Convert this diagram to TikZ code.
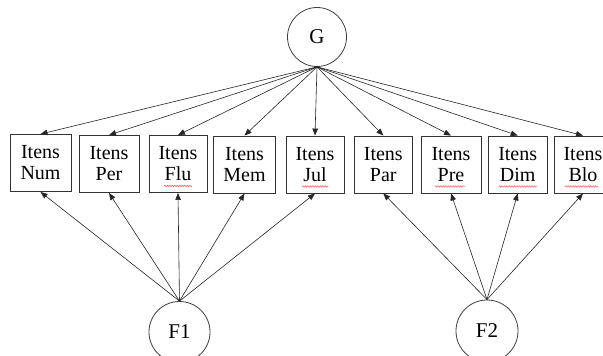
\documentclass[tikz,border=0pt]{standalone}
\usepackage{fontspec}
\setmainfont{Liberation Serif}
\usetikzlibrary{arrows.meta,decorations.pathmorphing}

\begin{document}
\begin{tikzpicture}[x=1pt,y=-1pt,
  item/.style={draw=black!80,line width=0.9pt,minimum height=57pt,inner sep=0pt,
    align=center,font=\fontsize{20}{21}\selectfont},
  latent/.style={circle,draw=black!75,line width=0.8pt,inner sep=0pt,
    font=\fontsize{21}{21}\selectfont},
  link/.style={draw=black!85,line width=0.6pt,-{Triangle[length=7pt,width=5.5pt]}},
  squiggle/.style={draw=red!65,line width=0.5pt,decorate,
    decoration={snake,amplitude=0.8pt,segment length=2.5pt}}]

\fill[white] (0,0) rectangle (603,356);
\clip (0,0) rectangle (603,356);
\useasboundingbox (0,0) rectangle (603,356);

% general factor and the two specific factors
\node[latent,minimum size=59pt] (G) at (317,37) {G};
\node[latent,minimum size=61pt] (F1) at (179.5,332) {F1};
\node[latent,minimum size=62pt] (F2) at (487,331) {F2};

% item groups
\node[item,minimum width=61pt] (num) at (40.5,163) {Itens\\Num};
\node[item,minimum width=60pt] (per) at (109,164) {Itens\\Per};
\node[item,minimum width=58pt] (flu) at (178,164) {Itens\\Flu};
\node[item,minimum width=62pt] (mem) at (244.5,164.5) {Itens\\Mem};
\node[item,minimum width=58pt] (jul) at (315,164.5) {Itens\\Jul};
\node[item,minimum width=58pt] (par) at (383.3,164.5) {Itens\\Par};
\node[item,minimum width=60pt] (pre) at (451,164.5) {Itens\\Pre};
\node[item,minimum width=59pt] (dim) at (517.7,164.5) {Itens\\Dim};
\node[item,minimum width=58pt] (blo) at (583,164.5) {Itens\\Blo};

% spell-check marks under some words
\draw[squiggle] ([xshift=-14pt,yshift=7pt]flu.south) -- ([xshift=14pt,yshift=7pt]flu.south);
\draw[squiggle] ([xshift=-13pt,yshift=7pt]jul.south) -- ([xshift=13pt,yshift=7pt]jul.south);
\draw[squiggle] ([xshift=-16pt,yshift=7pt]pre.south) -- ([xshift=14pt,yshift=7pt]pre.south);
\draw[squiggle] ([xshift=-19pt,yshift=7pt]dim.south) -- ([xshift=19pt,yshift=7pt]dim.south);
\draw[squiggle] ([xshift=-18pt,yshift=7pt]blo.south) -- ([xshift=15pt,yshift=7pt]blo.south);

% loadings of G
\foreach \t in {num,per,flu,mem,jul,par,pre,dim,blo}
  \draw[link] (G.south) -- (\t.north);

% loadings of F1 and F2
\foreach \t in {num,per,flu,mem,jul}
  \draw[link] (F1.north) -- (\t.south);
\foreach \t in {par,pre,dim,blo}
  \draw[link] (F2.north) -- (\t.south);

\end{tikzpicture}
\end{document}
